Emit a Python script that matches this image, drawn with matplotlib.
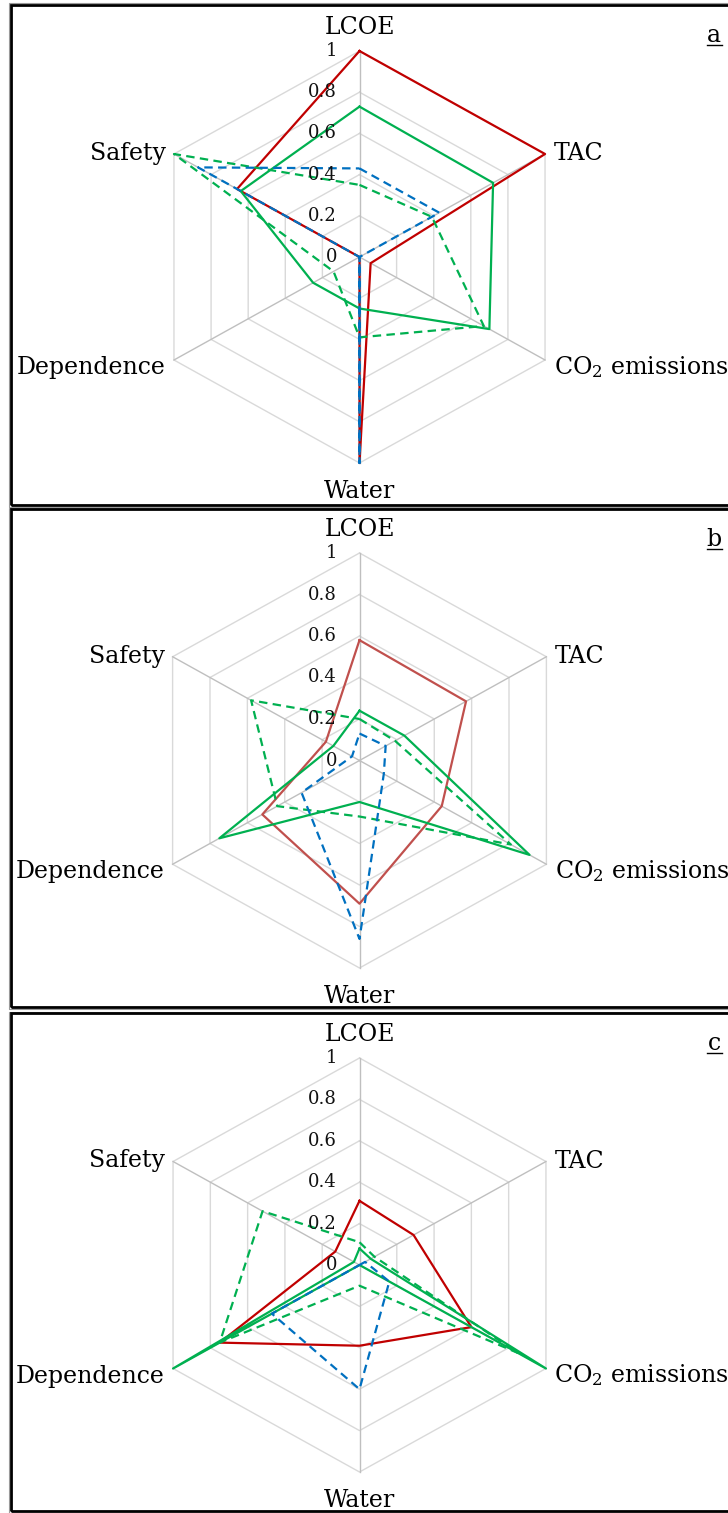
import numpy as np
import matplotlib
matplotlib.use('Agg')
import matplotlib.pyplot as plt
from matplotlib.patches import Rectangle
from matplotlib.lines import Line2D

plt.rcParams['font.family'] = ['DejaVu Serif']
plt.rcParams['mathtext.fontset'] = 'dejavuserif'

# ---------------- data ----------------
categories = ['LCOE', 'TAC', 'CO$_2$ emissions', 'Water', 'Dependence', 'Safety']
tick_values = [0, 0.2, 0.4, 0.6, 0.8, 1.0]
tick_labels = ['0', '0.2', '0.4', '0.6', '0.8', '1']
panel_letters = ['a', 'b', 'c']

a_red = [1.00, 1.00, 0.06, 1.00, 0.00, 0.66]
a_green = [0.73, 0.72, 0.70, 0.25, 0.25, 0.64]
a_green_dash = [0.35, 0.39, 0.67, 0.39, 0.14, 1.00]
a_blue_dash = [0.43, 0.43, 0.00, 1.00, 0.00, 0.87]

b_red = [0.58, 0.57, 0.44, 0.69, 0.52, 0.18]
b_green = [0.24, 0.24, 0.91, 0.20, 0.75, 0.14]
b_green_dash = [0.20, 0.19, 0.81, 0.27, 0.44, 0.58]
b_blue_dash = [0.13, 0.14, 0.13, 0.86, 0.31, 0.04]

c_red = [0.31, 0.29, 0.60, 0.39, 0.75, 0.13]
c_green = [0.08, 0.06, 1.00, 0.00, 1.00, 0.03]
c_green_dash = [0.11, 0.08, 0.85, 0.10, 0.75, 0.52]
c_blue_dash = [0.00, 0.03, 0.16, 0.60, 0.47, 0.00]

# ---------------- layout / style ----------------
W, H = 728, 1513
fig = plt.figure(figsize=(W / 100, H / 100), dpi=100)

RED_DARK = '#C00000'
RED_LIGHT = '#C0504D'
GREEN = '#00B050'
BLUE = '#0070C0'
GRID = '#D9D9D9'
SPOKE = '#BFBFBF'

panels = [
    # center_y, radius, frame top, frame bottom, red colour, series
    (257.0, 206.0, 5, 505, RED_DARK, (a_red, a_green, a_green_dash, a_blue_dash)),
    (760.5, 207.5, 509, 1007, RED_LIGHT, (b_red, b_green, b_green_dash, b_blue_dash)),
    (1265.0, 207.0, 1013, 1511, RED_DARK, (c_red, c_green, c_green_dash, c_blue_dash)),
]
cx = 359.5
stretch = 1.04

n = len(categories)
theta = np.arange(n) * 2 * np.pi / n
theta_c = np.append(theta, theta[0])

label_specs = [  # (dx, dy, ha) in pixels, baseline aligned
    (0, 16.7, 'center'),
    (8.5, -6, 'left'),
    (8.5, -14, 'left'),
    (0, -35.3, 'center'),
    (-8, -14, 'right'),
    (-8, -6, 'right'),
]

FS = 17

for idx, (cy, R, ftop, fbot, red_col, series) in enumerate(panels):
    hpx = 2 * R
    wpx = 2 * R * stretch
    left = (cx - wpx / 2) / W
    bottom = (H - (cy + R)) / H
    ax = fig.add_axes([left, bottom, wpx / W, hpx / H], projection='polar')
    ax.set_aspect('auto')
    ax.set_theta_zero_location('N')
    ax.set_theta_direction(-1)
    ax.set_ylim(0, 1)
    ax.grid(False)
    ax.set_xticks([])
    ax.set_yticks([])
    ax.spines['polar'].set_visible(False)
    ax.patch.set_alpha(0)

    # hexagonal gridlines
    for tv in tick_values[1:]:
        ax.plot(theta_c, [tv] * (n + 1), color=GRID, lw=1.0, clip_on=False, zorder=1)
    # spokes
    for th in theta:
        ax.plot([th, th], [0, 1], color=SPOKE, lw=1.0, clip_on=False, zorder=1.2)

    # tick labels along LCOE axis
    for tv, tl in zip(tick_values, tick_labels):
        ax.annotate(tl, xy=(0, tv), xytext=(-22.5, 0), textcoords='offset pixels',
                    ha='right', va='center', fontsize=13, color='#111111', zorder=5)

    # category labels
    for th, cat, (dx, dy, ha) in zip(theta, categories, label_specs):
        ax.annotate(cat, xy=(th, 1.0), xytext=(dx, dy), textcoords='offset pixels',
                    ha=ha, va='baseline', fontsize=FS, color='black',
                    annotation_clip=False)

    red, green, green_dash, blue_dash = series
    ax.plot(theta_c, red + red[:1], color=red_col, lw=1.6, clip_on=False, zorder=3)
    ax.plot(theta_c, green + green[:1], color=GREEN, lw=1.6, clip_on=False, zorder=3.1)
    ax.plot(theta_c, green_dash + green_dash[:1], color=GREEN, lw=1.6,
            dashes=(3.8, 2.4), clip_on=False, zorder=3.2)
    ax.plot(theta_c, blue_dash + blue_dash[:1], color=BLUE, lw=1.6,
            dashes=(3.8, 2.4), clip_on=False, zorder=3.3)

    # frame (double line look)
    fig.add_artist(Rectangle((8.5 / W, (H - fbot - 1.5) / H), (760 - 8.5) / W,
                             (fbot - ftop + 3) / H, transform=fig.transFigure,
                             fill=False, ec='#9a9a9a', lw=0.8))
    fig.add_artist(Rectangle((10.5 / W, (H - fbot) / H), (760 - 10.5) / W,
                             (fbot - ftop) / H, transform=fig.transFigure,
                             fill=False, ec='black', lw=2.0))

    # panel letter with underline
    base_y = ftop + 37
    fig.text(714 / W, (H - base_y) / H, panel_letters[idx], ha='center',
             va='baseline', fontsize=FS, color='black')
    fig.add_artist(Line2D([706.5 / W, 721.5 / W], [(H - base_y - 3) / H] * 2,
                          transform=fig.transFigure, color='black', lw=1.0))

fig.savefig('out.png', dpi=100, facecolor='white')
